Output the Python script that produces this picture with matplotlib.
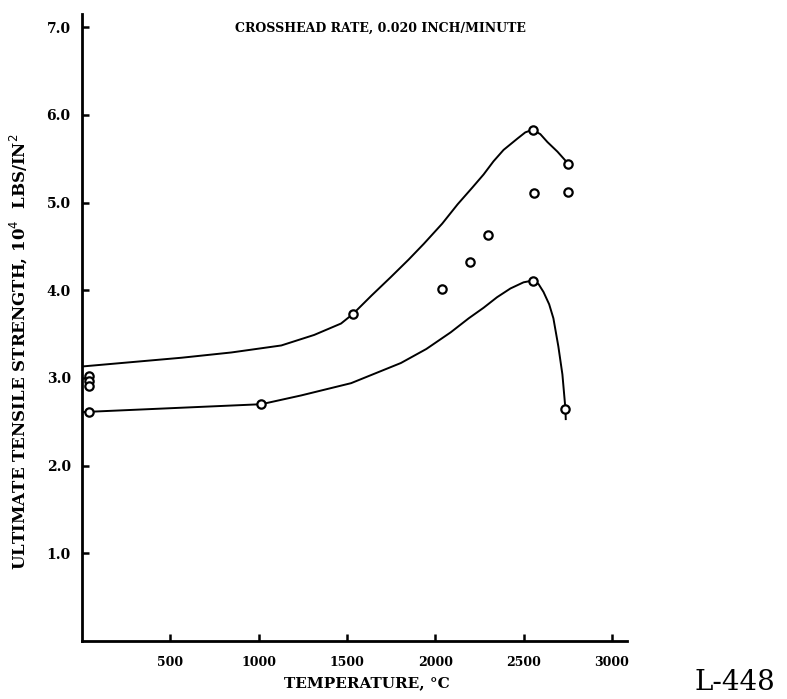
import matplotlib
matplotlib.use("Agg")
import matplotlib.pyplot as plt

# upper bounding curve
upper_t = [0, 564, 846, 1129, 1315, 1467, 1535, 1640, 1749, 1850, 1936, 2040, 2127, 2210, 2274, 2330, 2387, 2466, 2510, 2551, 2595, 2635, 2692, 2754]
upper_s = [3.13, 3.23, 3.29, 3.37, 3.49, 3.62, 3.73, 3.94, 4.15, 4.35, 4.53, 4.76, 4.98, 5.17, 5.32, 5.47, 5.60, 5.73, 5.80, 5.83, 5.78, 5.69, 5.58, 5.44]
upper_pts_t = [1535, 2551, 2754]
upper_pts_s = [3.73, 5.83, 5.44]

# lower bounding curve
lower_t = [0, 564, 1016, 1241, 1524, 1806, 1950, 2088, 2190, 2274, 2350, 2426, 2500, 2551, 2585, 2613, 2645, 2669, 2697, 2720, 2737, 2739]
lower_s = [2.61, 2.66, 2.70, 2.80, 2.94, 3.17, 3.33, 3.52, 3.68, 3.80, 3.92, 4.02, 4.09, 4.11, 4.07, 3.98, 3.84, 3.68, 3.36, 3.04, 2.65, 2.53]
lower_pts_t = [40, 1016, 2551, 2737]
lower_pts_s = [2.61, 2.70, 4.11, 2.65]

# other test points
other_t = [40, 40, 40, 2037, 2195, 2297, 2557, 2754]
other_s = [3.02, 2.96, 2.91, 4.01, 4.32, 4.63, 5.11, 5.12]

xticks = [500, 1000, 1500, 2000, 2500, 3000]
yticks = [1.0, 2.0, 3.0, 4.0, 5.0, 6.0, 7.0]

serif = ['DejaVu Serif']

fig = plt.figure(figsize=(7.87, 6.99), dpi=100)
ax = fig.add_axes([0.104, 0.083, 0.693, 0.897])

ax.plot(upper_t, upper_s, color='black', lw=1.4)
ax.plot(lower_t, lower_s, color='black', lw=1.4)
mk = dict(ls='none', marker='o', ms=6, mfc='white', mec='black', mew=1.6)
ax.plot(upper_pts_t, upper_pts_s, **mk)
ax.plot(lower_pts_t, lower_pts_s, **mk)
ax.plot(other_t, other_s, **mk)

ax.set_xlim(0, 3087)
ax.set_ylim(0, 7.15)
ax.spines['top'].set_visible(False)
ax.spines['right'].set_visible(False)
ax.spines['left'].set_linewidth(2)
ax.spines['bottom'].set_linewidth(2)

ax.set_xticks(xticks)
ax.set_xticklabels([str(v) for v in xticks])
ax.set_yticks(yticks)
ax.set_yticklabels(['%.1f' % v for v in yticks])
ax.tick_params(axis='both', direction='in', length=5, width=1.8)
ax.tick_params(axis='x', pad=11, labelsize=9)
ax.tick_params(axis='y', pad=8, labelsize=10)
for lab in ax.get_xticklabels() + ax.get_yticklabels():
    lab.set_family(serif)
    lab.set_fontweight('bold')

fig.text(380 / 787, 1 - 28 / 699, 'CROSSHEAD RATE, 0.020 INCH/MINUTE', ha='center', va='center',
         family=serif, fontweight='bold', fontsize=9)
fig.text(367 / 787, 1 - 683 / 699, 'TEMPERATURE, °C', ha='center', va='center',
         family=serif, fontweight='bold', fontsize=11)
fig.text(18 / 787, 1 - 352 / 699, 'ULTIMATE TENSILE STRENGTH, 10$^4$  LBS/IN$^2$', ha='center', va='center',
         rotation=90, family=serif, fontweight='bold', fontsize=12)
fig.text(735 / 787, 1 - 690 / 699, 'L-448', ha='center', va='baseline',
         family=serif, fontsize=20)

fig.savefig('out.png', dpi=100)
